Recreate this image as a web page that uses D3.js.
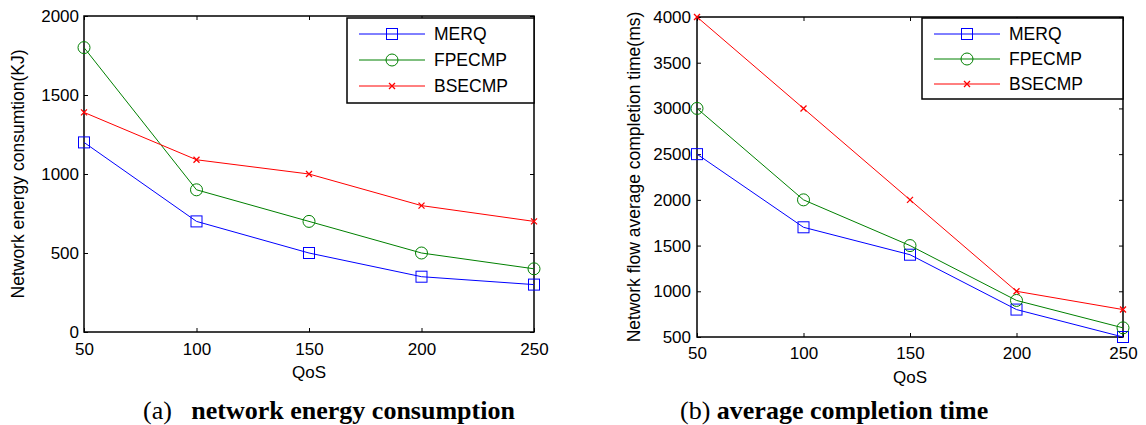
<!DOCTYPE html>
<html>
<head>
<meta charset="utf-8">
<script src="https://cdn.jsdelivr.net/npm/d3@7"></script>
<style>
  body { margin: 0; background: #fff; }
  svg text { font-family: "Liberation Sans", Arial, sans-serif; fill: #000; }
  .caption { font-family: "Liberation Serif", "Times New Roman", serif; }
</style>
</head>
<body>
<svg id="chart" width="1146" height="425"></svg>
<script>
// QoS values along the x axis
const qos = [50, 100, 150, 200, 250];
const seriesNames = ["MERQ", "FPECMP", "BSECMP"];

// (a) network energy consumption (KJ)
const energyMERQ = [1200, 700, 500, 350, 300];
const energyFPECMP = [1800, 900, 700, 500, 400];
const energyBSECMP = [1390, 1090, 1000, 800, 700];
const energyTicks = [0, 500, 1000, 1500, 2000];

// (b) average completion time (ms)
const timeMERQ = [2500, 1700, 1400, 800, 500];
const timeFPECMP = [3000, 2000, 1500, 900, 600];
const timeBSECMP = [4000, 3000, 2000, 1000, 800];
const timeTicks = [500, 1000, 1500, 2000, 2500, 3000, 3500, 4000];

const colors = ["#0000ff", "#008000", "#ff0000"];
const markers = ["square", "circle", "cross"];

const svg = d3.select("#chart");

function drawMarker(g, type, x, y, color) {
  if (type === "square") {
    g.append("rect").attr("x", x - 5.5).attr("y", y - 5.5)
      .attr("width", 11).attr("height", 11)
      .attr("fill", "none").attr("stroke", color).attr("stroke-width", 1);
  } else if (type === "circle") {
    g.append("circle").attr("cx", x).attr("cy", y).attr("r", 6)
      .attr("fill", "none").attr("stroke", color).attr("stroke-width", 1);
  } else {
    g.append("path")
      .attr("d", `M${x - 3},${y - 3}L${x + 3},${y + 3}M${x - 3},${y + 3}L${x + 3},${y - 3}`)
      .attr("stroke", color).attr("stroke-width", 1.3);
  }
}

function drawPanel(cfg) {
  const g = svg.append("g");
  const x = d3.scaleLinear().domain([50, 250]).range([cfg.left, cfg.right]);
  const y = d3.scaleLinear().domain(cfg.yDomain).range([cfg.bottom, cfg.top]);

  // box
  g.append("rect")
    .attr("x", cfg.left).attr("y", cfg.top)
    .attr("width", cfg.right - cfg.left).attr("height", cfg.bottom - cfg.top)
    .attr("fill", "none").attr("stroke", "#000").attr("stroke-width", 1.5);

  // axes with inward ticks (MATLAB style)
  const fmt = d3.format("d");
  const xAxis = d3.axisBottom(x).tickValues(qos).tickFormat(fmt)
    .tickSizeInner(-4).tickSizeOuter(0).tickPadding(cfg.xPad);
  const xTop = d3.axisTop(x).tickValues(qos).tickSizeInner(-4).tickSizeOuter(0).tickFormat("");
  const yAxis = d3.axisLeft(y).tickValues(cfg.yTicks).tickFormat(fmt)
    .tickSizeInner(-4).tickSizeOuter(0).tickPadding(cfg.yPad);
  const yRight = d3.axisRight(y).tickValues(cfg.yTicks).tickSizeInner(-4).tickSizeOuter(0).tickFormat("");

  [
    [xAxis, `translate(0,${cfg.bottom})`],
    [xTop, `translate(0,${cfg.top})`],
    [yAxis, `translate(${cfg.left},0)`],
    [yRight, `translate(${cfg.right},0)`],
  ].forEach(([ax, tr]) => {
    const a = g.append("g").attr("transform", tr).call(ax);
    a.select(".domain").remove();
    a.selectAll("line").attr("stroke", "#000");
    a.attr("font-family", null);
    a.selectAll("text").attr("font-size", 17);
  });

  // axis labels
  g.append("text")
    .attr("x", (cfg.left + cfg.right) / 2).attr("y", cfg.bottom + 46)
    .attr("text-anchor", "middle").attr("font-size", 17)
    .text("QoS");
  g.append("text")
    .attr("transform", `translate(${cfg.yLabelX},${(cfg.top + cfg.bottom) / 2}) rotate(-90)`)
    .attr("text-anchor", "middle").attr("font-size", 17.5)
    .text(cfg.yLabel);

  // lines + markers
  const line = d3.line().x((d, i) => x(qos[i])).y(d => y(d));
  cfg.series.forEach((vals, s) => {
    g.append("path").datum(vals).attr("d", line)
      .attr("fill", "none").attr("stroke", colors[s]).attr("stroke-width", 1);
    vals.forEach((v, i) => drawMarker(g, markers[s], x(qos[i]), y(v), colors[s]));
  });

  // legend
  const lg = cfg.legend;
  g.append("rect")
    .attr("x", lg.x0).attr("y", lg.y0)
    .attr("width", cfg.right - lg.x0).attr("height", lg.h)
    .attr("fill", "#fff").attr("stroke", "#000").attr("stroke-width", 1.5);
  seriesNames.forEach((name, s) => {
    const ry = lg.y0 + 16 + s * lg.step;
    g.append("line")
      .attr("x1", lg.x0 + 12).attr("x2", lg.x0 + 78)
      .attr("y1", ry).attr("y2", ry)
      .attr("stroke", colors[s]).attr("stroke-width", 1);
    drawMarker(g, markers[s], lg.x0 + 45, ry, colors[s]);
    g.append("text")
      .attr("x", lg.x0 + 87).attr("y", ry + 6)
      .attr("font-size", 17.5)
      .text(name);
  });

  // caption
  const cap = g.append("text").attr("class", "caption")
    .attr("x", cfg.captionX).attr("y", 419).attr("font-size", 26);
  cap.append("tspan").attr("xml:space", "preserve").text(cfg.captionPrefix);
  cap.append("tspan").attr("font-weight", "bold").text(cfg.captionBold);
}

drawPanel({
  left: 84, right: 534, top: 16, bottom: 332, xPad: 11, yPad: 5,
  yDomain: [0, 2000], yTicks: energyTicks,
  series: [energyMERQ, energyFPECMP, energyBSECMP],
  yLabel: "Network energy consumtion(KJ)", yLabelX: 24,
  legend: { x0: 347, y0: 18, h: 85, step: 26 },
  captionX: 143, captionPrefix: "(a)   ", captionBold: "network energy consumption",
});

drawPanel({
  left: 697, right: 1123, top: 17, bottom: 337, xPad: 10, yPad: 6,
  yDomain: [500, 4000], yTicks: timeTicks,
  series: [timeMERQ, timeFPECMP, timeBSECMP],
  yLabel: "Network flow average completion time(ms)", yLabelX: 640,
  legend: { x0: 922, y0: 18, h: 81, step: 25 },
  captionX: 680, captionPrefix: "(b) ", captionBold: "average completion time",
});
</script>
</body>
</html>
